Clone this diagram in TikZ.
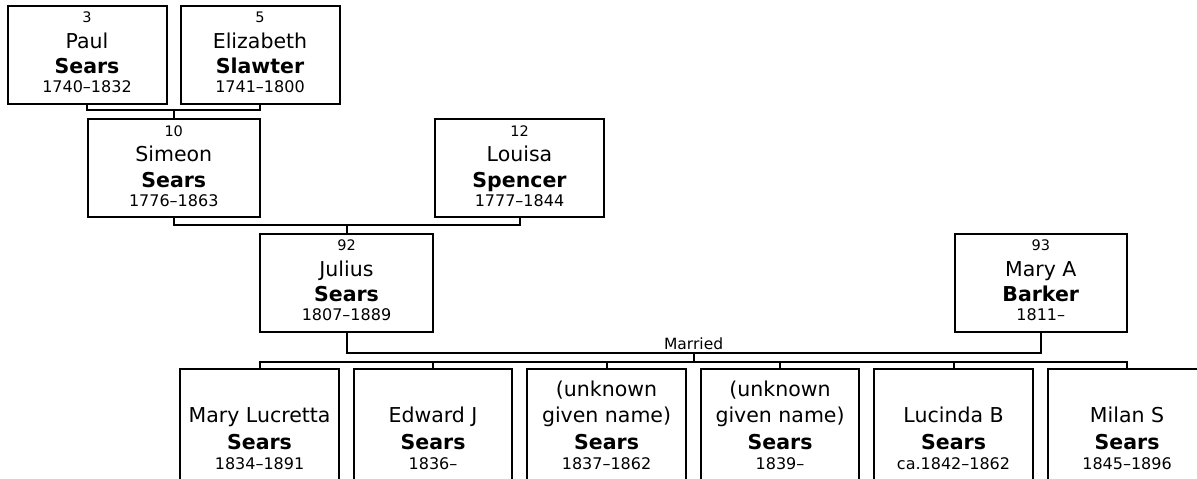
\documentclass[tikz,border=0pt]{standalone}
\usepackage{fontspec}
\setmainfont{DejaVu Sans}
\tikzset{
  pbox/.style={draw=black, line width=2pt, rectangle, inner sep=0pt, outer sep=0pt, fill=white},
  conn/.style={draw=black, line width=2pt, line join=miter},
  numtxt/.style={anchor=base, inner sep=0pt, font=\fontsize{14.5}{17}\selectfont},
  nametxt/.style={anchor=base, inner sep=0pt, font=\fontsize{20.5}{24}\selectfont},
  surtxt/.style={anchor=base, inner sep=0pt, font=\fontsize{20.5}{24}\selectfont\bfseries},
  yeartxt/.style={anchor=base, inner sep=0pt, font=\fontsize{16}{19}\selectfont},
  reltxt/.style={anchor=base, inner sep=0pt, font=\fontsize{15.5}{18}\selectfont},
}
% name, left, top, width, number, given, surname, years
\newcommand{\parentbox}[8]{%
  \node[pbox, minimum width=#4pt, minimum height=98pt, anchor=north west] (#1) at (#2,#3) {};
  \node[numtxt] (#1-num) at ([yshift=-17pt]#1.north) {#5};
  \node[nametxt] (#1-given) at ([yshift=-42.5pt]#1.north) {#6};
  \node[surtxt] (#1-sur) at ([yshift=-68pt]#1.north) {#7};
  \node[yeartxt] (#1-yrs) at ([yshift=-87pt]#1.north) {#8};
}
% name, left, first line, second line, years  (first line may be empty)
\newcommand{\childbox}[5]{%
  \node[pbox, minimum width=158.5pt, minimum height=140pt, anchor=north west] (#1) at (#2,368.7) {};
  \node[nametxt] (#1-g1) at ([yshift=-27.3pt]#1.north) {#3};
  \node[nametxt] (#1-g2) at ([yshift=-53.3pt]#1.north) {#4};
  \node[surtxt] (#1-sur) at ([yshift=-80.3pt]#1.north) {Sears};
  \node[yeartxt] (#1-yrs) at ([yshift=-100.3pt]#1.north) {#5};
}
\begin{document}
\begin{tikzpicture}[x=1pt,y=-1pt]
\useasboundingbox (0,0) rectangle (1197,479);
\clip (0,0) rectangle (1197,479);
\fill[white] (0,0) rectangle (1197,479);

% generation 1
\parentbox{p3}{7.5}{5.5}{159}{3}{Paul}{Sears}{1740–1832}
\parentbox{p5}{180.5}{5.5}{159}{5}{Elizabeth}{Slawter}{1741–1800}
% generation 2
\parentbox{p10}{88}{119}{171.5}{10}{Simeon}{Sears}{1776–1863}
\parentbox{p12}{435}{119}{169}{12}{Louisa}{Spencer}{1777–1844}
% generation 3
\parentbox{p92}{260}{233.5}{173}{92}{Julius}{Sears}{1807–1889}
\parentbox{p93}{955}{233.5}{171.5}{93}{Mary A}{Barker}{1811–}
% children
\childbox{c1}{180.3}{}{Mary Lucretta}{1834–1891}
\childbox{c2}{353.8}{}{Edward J}{1836–}
\childbox{c3}{527.3}{(unknown}{given name)}{1837–1862}
\childbox{c4}{700.8}{(unknown}{given name)}{1839–}
\childbox{c5}{874.3}{}{Lucinda B}{ca.1842–1862}
\childbox{c6}{1047.8}{}{Milan S}{1845–1896}

% connectors
\coordinate (m1) at (173.75,110);
\coordinate (m2) at (346.5,224.7);
\coordinate (m3) at (693.6,352.7);
\coordinate (cb) at (693.6,361.7);

\draw[conn] (p3.south) |- (m1) -| (p5.south);
\draw[conn] (m1) -- (p10.north);
\draw[conn] (p10.south) |- (m2) -| (p12.south);
\draw[conn] (m2) -- (p92.north);
\draw[conn] (p92.south) |- (m3) -| (p93.south);
\node[reltxt] (married) at ([yshift=3.7pt]m3) {Married};
\draw[conn] (m3) -- (cb);
\draw[conn] (c1.north) |- (cb) -| (c6.north);
\draw[conn] (c2.north) -- (c2.north |- cb);
\draw[conn] (c3.north) -- (c3.north |- cb);
\draw[conn] (c4.north) -- (c4.north |- cb);
\draw[conn] (c5.north) -- (c5.north |- cb);
\end{tikzpicture}
\end{document}
